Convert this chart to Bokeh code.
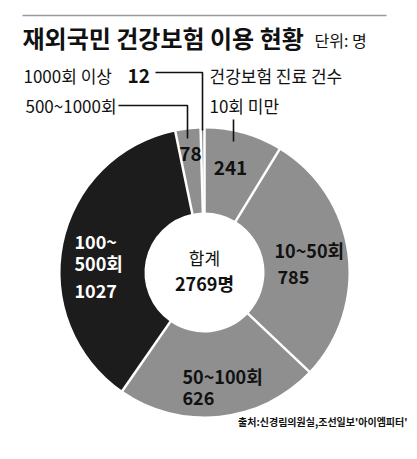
import numpy as np
from bokeh.plotting import figure
from bokeh.models import Range1d, ColumnDataSource
from bokeh.embed import file_html
from bokeh.resources import INLINE
from bokeh.core.properties import value

# ---- data ----
categories = ["10회 미만", "10~50회", "50~100회", "100~500회", "500~1000회", "1000회 이상"]
counts = [241, 785, 626, 1027, 78, 12]
colors = ["#8f8f8f", "#8f8f8f", "#8f8f8f", "#1c1c1c", "#8f8f8f", "#8f8f8f"]
title_text = "재외국민 건강보험 이용 현황"
unit_text = "단위: 명"
legend_title = "건강보험 진료 건수"
total_word = "합계"
source_text = "출처:신경림의원실,조선일보'아이엠피터'"

FONT = value("Noto Sans CJK KR")
PAGE_H = 459


def Y(py):
    return PAGE_H - py


p = figure(width=409, height=451, x_range=Range1d(0, 409), y_range=Range1d(8, 459),
           output_backend="svg", toolbar_location=None, min_border=0,
           x_axis_type=None, y_axis_type=None)
p.grid.visible = False
p.outline_line_color = None
p.background_fill_color = "white"

cx, cy = 204, Y(272)
r_out, r_in = 144, 60

total = sum(counts)
cum = np.concatenate([[0], np.cumsum(counts)]) / total * 2 * np.pi  # clockwise from 12 o'clock
starts = np.pi / 2 - cum[1:]
ends = np.pi / 2 - cum[:-1]
src = ColumnDataSource(dict(start=starts, end=ends, color=colors, cat=categories, n=counts))
p.annular_wedge(x=cx, y=cy, inner_radius=r_in, outer_radius=r_out, start_angle="start",
                end_angle="end", fill_color="color", line_color=None, source=src)

# white separators between slices
b = cum[:-1]
p.segment(x0=cx + (r_in - 2) * np.sin(b), y0=cy + (r_in - 2) * np.cos(b),
          x1=cx + (r_out + 2) * np.sin(b), y1=cy + (r_out + 2) * np.cos(b),
          line_color="white", line_width=2.5)

# top rule
p.segment(x0=[22], y0=[Y(15)], x1=[386], y1=[Y(15)], line_color="#9a9a9a", line_width=1.5)

# title
p.text(x=[22], y=[Y(37)], text=[title_text], text_font=FONT, text_font_style="bold",
       text_font_size="24px", text_baseline="middle", text_color="#111111")
p.text(x=[314], y=[Y(39)], text=[unit_text], text_font=FONT,
       text_font_size="16px", text_baseline="middle", text_color="#111111")

# top labels
p.text(x=[23], y=[Y(75)], text=[categories[5]], text_font=FONT, text_font_size="17px",
       text_baseline="middle", text_color="#111111")
p.text(x=[127], y=[Y(75)], text=[str(counts[5])], text_font=FONT, text_font_style="bold",
       text_font_size="19px", text_baseline="middle", text_color="#111111")
p.text(x=[25], y=[Y(105)], text=[categories[4]], text_font=FONT, text_font_size="17px",
       text_baseline="middle", text_color="#111111")
p.text(x=[209], y=[Y(75)], text=[legend_title], text_font=FONT, text_font_size="17px",
       text_baseline="middle", text_color="#111111")
p.text(x=[209], y=[Y(105)], text=[categories[0]], text_font=FONT, text_font_size="17px",
       text_baseline="middle", text_color="#111111")

# leader lines
p.multi_line(xs=[[155, 202, 202], [118, 187, 187], [233, 233]],
             ys=[[Y(72), Y(72), Y(130)], [Y(105), Y(105), Y(138)], [Y(119), Y(141)]],
             line_color="#111111", line_width=1.6)

# slice labels
p.text(x=[190], y=[Y(153)], text=[str(counts[4])], text_font=FONT, text_font_style="bold",
       text_font_size="19px", text_baseline="middle", text_align="center", text_color="#111111")
p.text(x=[230], y=[Y(167)], text=[str(counts[0])], text_font=FONT, text_font_style="bold",
       text_font_size="19px", text_baseline="middle", text_align="center", text_color="#111111")

p.text(x=[74, 74, 74], y=[Y(240), Y(262), Y(290)], text=["100~", "500회", str(counts[3])],
       text_font=FONT, text_font_style="bold", text_font_size="18px", text_baseline="middle",
       text_color="white")

p.text(x=[274, 277], y=[Y(249), Y(276)], text=[categories[1], str(counts[1])],
       text_font=FONT, text_font_style="bold", text_font_size="18px", text_baseline="middle",
       text_color="#111111")
p.text(x=[182, 182], y=[Y(375), Y(397)], text=[categories[2], str(counts[2])],
       text_font=FONT, text_font_style="bold", text_font_size="18px", text_baseline="middle",
       text_color="#111111")

p.text(x=[cx], y=[Y(257)], text=[total_word],
       text_font=FONT, text_font_size="17px", text_baseline="middle", text_align="center",
       text_color="#111111")
p.text(x=[cx], y=[Y(282)], text=[f"{total}명"],
       text_font=FONT, text_font_style="bold", text_font_size="18px", text_baseline="middle",
       text_align="center", text_color="#111111")

p.text(x=[407], y=[Y(421)], text=[source_text], text_font=FONT, text_font_style="bold",
       text_font_size="10px", text_baseline="middle", text_align="right", text_color="#111111")

open("out.html", "w").write(file_html(p, INLINE))
